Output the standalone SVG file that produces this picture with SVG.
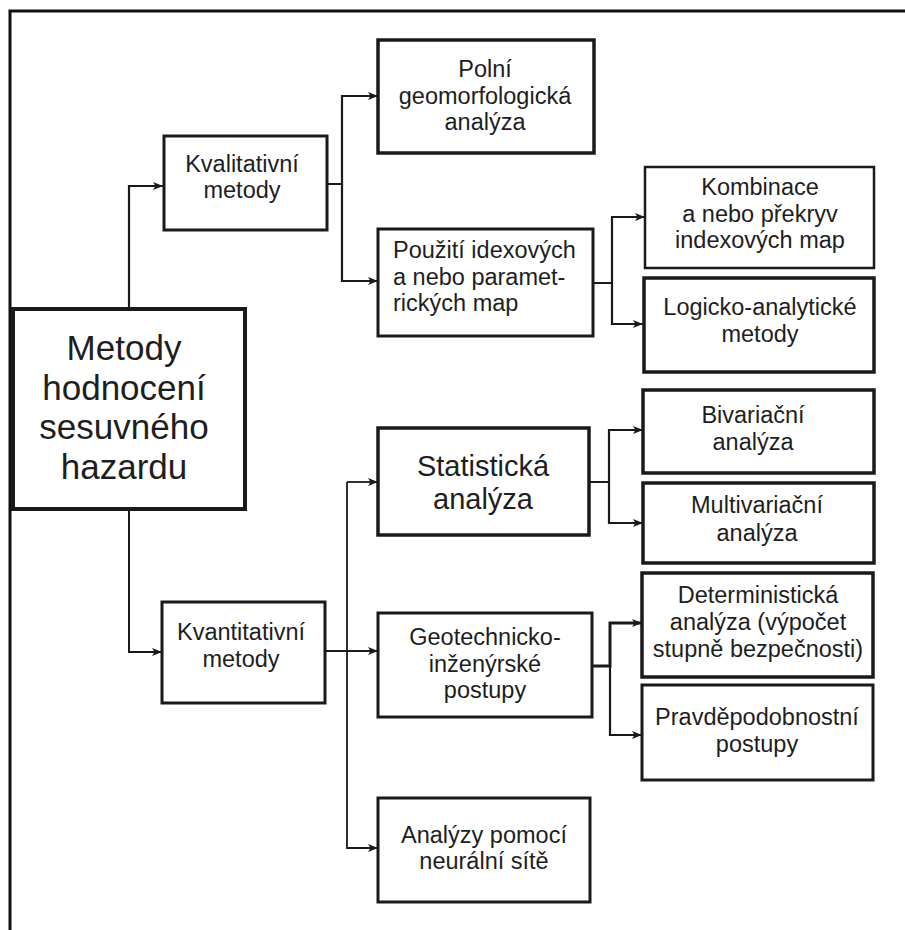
<svg xmlns="http://www.w3.org/2000/svg" width="905" height="930" viewBox="0 0 905 930">
<defs>
<marker id="ah" markerUnits="userSpaceOnUse" markerWidth="11" markerHeight="9" refX="10" refY="4.5" orient="auto">
<path d="M0,0.5 L10,4.5 L0,8.5 L2.5,4.5 z" fill="#1a1a1a"/>
</marker>
<style>
.box{fill:#fff;stroke:#1a1a1a;stroke-width:3}
.t{font-family:"Liberation Sans",Arial,sans-serif;fill:#1e1e1e;text-anchor:middle;font-size:23.5px}
.tl{text-anchor:start}
.c{fill:none;stroke:#1a1a1a;stroke-width:2.2}
.ca{fill:none;stroke:#1a1a1a;stroke-width:2.2;marker-end:url(#ah)}
</style>
</defs>
<rect width="905" height="930" fill="#fff"/>
<path d="M10,930 V11 H905" fill="none" stroke="#111" stroke-width="3"/>

<g id="connectors">
<path class="ca" d="M129,309 V186 H163" stroke-width="3"/>
<path class="ca" d="M129,509 V652 H162" style="stroke-width:2"/>
<path class="ca" d="M327,184 H342 V96 H378"/>
<path class="ca" d="M342,184 V281 H378"/>
<path class="ca" d="M593,283 H612 V217 H645"/>
<path class="ca" d="M612,283 V324 H643"/>
<path class="ca" d="M589,482 H609 V430 H643"/>
<path class="ca" d="M609,482 V523 H643"/>
<path class="ca" d="M325,651 H378" style="stroke-width:1.8"/>
<path class="ca" d="M347,482 H378" style="stroke-width:1.8"/>
<path class="ca" d="M347,482 V848 H378" style="stroke-width:1.8"/>
<path class="ca" d="M592,666 H610 V623 H642" style="stroke-width:3"/>
<path class="ca" d="M610,666 V735 H642"/>
</g>

<g id="main">
<rect class="box" x="13" y="309" width="232" height="200" style="stroke-width:4"/>
<text class="t" x="124" y="360" style="font-size:35px">Metody</text>
<text class="t" x="124" y="400" style="font-size:35px">hodnocení</text>
<text class="t" x="124" y="439" style="font-size:35px">sesuvného</text>
<text class="t" x="124" y="479" style="font-size:35px">hazardu</text>
</g>

<g id="kvalitativni">
<rect class="box" x="164" y="136" width="163" height="94"/>
<text class="t" x="242" y="172">Kvalitativní</text>
<text class="t" x="242" y="198">metody</text>
</g>

<g id="kvantitativni">
<rect class="box" x="162" y="602" width="163" height="101"/>
<text class="t" x="241" y="640">Kvantitativní</text>
<text class="t" x="241" y="667">metody</text>
</g>

<g id="polni">
<rect class="box" x="378" y="40" width="216" height="113" style="stroke-width:3.5"/>
<text class="t" x="485" y="77">Polní</text>
<text class="t" x="485" y="104">geomorfologická</text>
<text class="t" x="485" y="130">analýza</text>
</g>

<g id="pouziti">
<rect class="box" x="378" y="229" width="215" height="107"/>
<text class="t tl" x="393" y="258">Použití idexových</text>
<text class="t tl" x="393" y="285">a nebo paramet-</text>
<text class="t tl" x="393" y="311">rických map</text>
</g>

<g id="kombinace">
<rect class="box" x="645" y="167" width="229" height="101" style="stroke-width:2.5"/>
<text class="t" x="760" y="195">Kombinace</text>
<text class="t" x="760" y="222">a nebo překryv</text>
<text class="t" x="760" y="248">indexových map</text>
</g>

<g id="logicko">
<rect class="box" x="644" y="278" width="230" height="94" style="stroke-width:3.5"/>
<text class="t" x="760" y="315">Logicko-analytické</text>
<text class="t" x="760" y="342">metody</text>
</g>

<g id="statisticka">
<rect class="box" x="378" y="428" width="211" height="107" style="stroke-width:3.5"/>
<text class="t" x="483" y="476" style="font-size:29px">Statistická</text>
<text class="t" x="483" y="509" style="font-size:29px">analýza</text>
</g>

<g id="bivariacni">
<rect class="box" x="643" y="390" width="231" height="83" style="stroke-width:3.5"/>
<text class="t" x="753" y="423">Bivariační</text>
<text class="t" x="753" y="450">analýza</text>
</g>

<g id="multivariacni">
<rect class="box" x="643" y="483" width="231" height="80" style="stroke-width:3.5"/>
<text class="t" x="757" y="513">Multivariační</text>
<text class="t" x="757" y="541">analýza</text>
</g>

<g id="geotechnicko">
<rect class="box" x="378" y="613" width="214" height="104"/>
<text class="t" x="485" y="645">Geotechnicko-</text>
<text class="t" x="485" y="672">inženýrské</text>
<text class="t" x="485" y="698">postupy</text>
</g>

<g id="deterministicka">
<rect class="box" x="642" y="573" width="231" height="104" style="stroke-width:3.5"/>
<text class="t" x="758" y="603">Deterministická</text>
<text class="t" x="758" y="630">analýza (výpočet</text>
<text class="t" x="758" y="657">stupně bezpečnosti)</text>
</g>

<g id="pravdepodobnostni">
<rect class="box" x="642" y="685" width="231" height="95"/>
<text class="t" x="757" y="725">Pravděpodobnostní</text>
<text class="t" x="757" y="752">postupy</text>
</g>

<g id="neuralni">
<rect class="box" x="378" y="798" width="212" height="104"/>
<text class="t" x="484" y="843">Analýzy pomocí</text>
<text class="t" x="484" y="869">neurální sítě</text>
</g>
</svg>
